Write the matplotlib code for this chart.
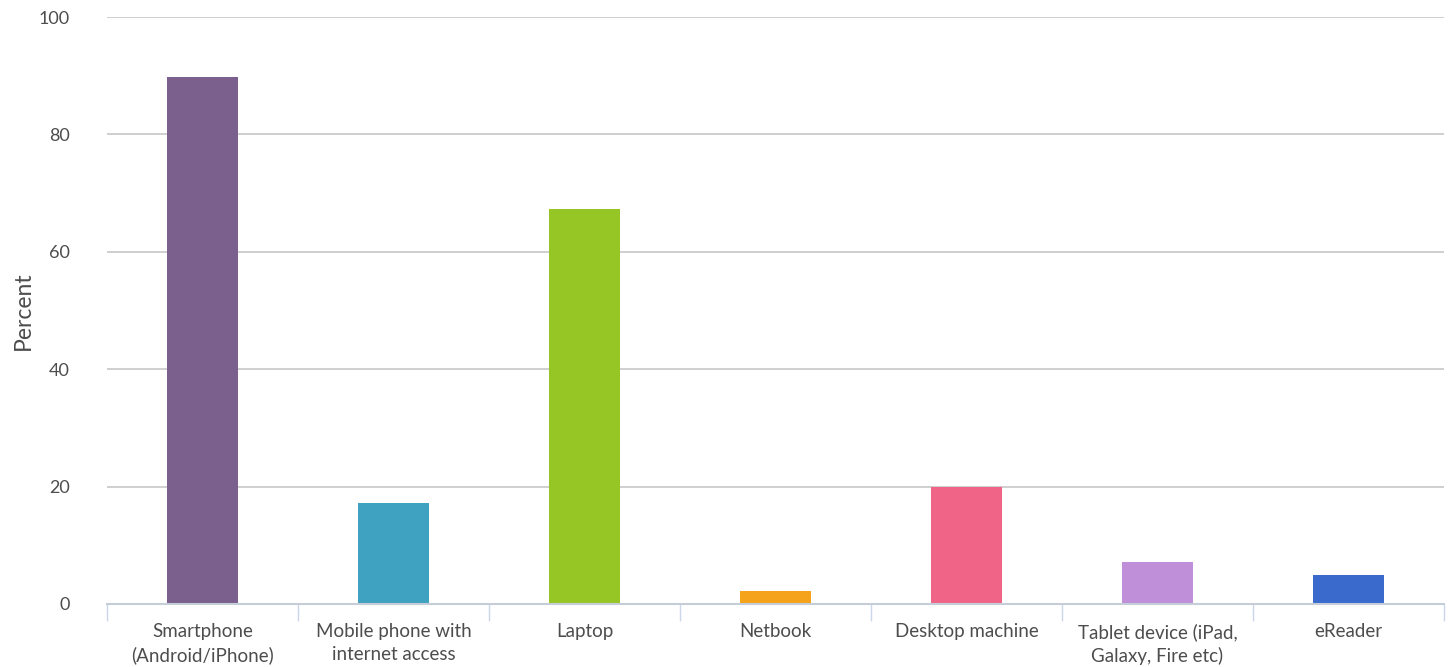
import numpy as np
import matplotlib; matplotlib.use('Agg')
import matplotlib.pyplot as plt

categories = ['Smartphone\n(Android/iPhone)', 'Mobile phone with\ninternet access', 'Laptop', 'Netbook',
              'Desktop machine', 'Tablet device (iPad,\nGalaxy, Fire etc)', 'eReader']
values = [89.8, 17.2, 67.3, 2.2, 19.9, 7.2, 4.9]
colors = ['#7b5f8d', '#3fa2c1', '#95c626', '#f4a31b', '#f06587', '#bf8fda', '#3a6bcc']

plt.rcParams['font.family'] = ['Lato', 'DejaVu Sans']
txt = '#4d4d4d'

fig = plt.figure(figsize=(14.5, 6.67), dpi=100)
ax = fig.add_axes([107/1450, 1-604/667, (1444-107)/1450, (604-17)/667])
x = np.arange(len(categories))
ax.bar(x, values, width=0.367, color=colors, zorder=3)
ax.set_xlim(-0.5, len(categories)-0.5)
ax.set_ylim(0, 100)
ax.set_yticks([0, 20, 40, 60, 80, 100])
ax.yaxis.grid(True, color='#cccccc', lw=1.3, zorder=0)
for s in ['top', 'right', 'left']:
    ax.spines[s].set_visible(False)
ax.spines['bottom'].set_color('#c5cdd8'); ax.spines['bottom'].set_linewidth(1.5); ax.spines['bottom'].set_zorder(4)
ax.tick_params(axis='y', length=0, pad=27, labelsize=13, labelcolor=txt)
ax.set_xticks(x)
ax.set_xticklabels(categories, fontsize=13.5, color=txt, linespacing=1.38)
ax.tick_params(axis='x', which='major', length=0, pad=14)
ax.set_xticks(np.arange(-0.5, len(categories)), minor=True)
ax.tick_params(axis='x', which='minor', length=12, width=1, color='#ccd6eb')
ax.set_ylabel('Percent', fontsize=16.5, color=txt, labelpad=3)
fig.savefig('out.png', dpi=100)
